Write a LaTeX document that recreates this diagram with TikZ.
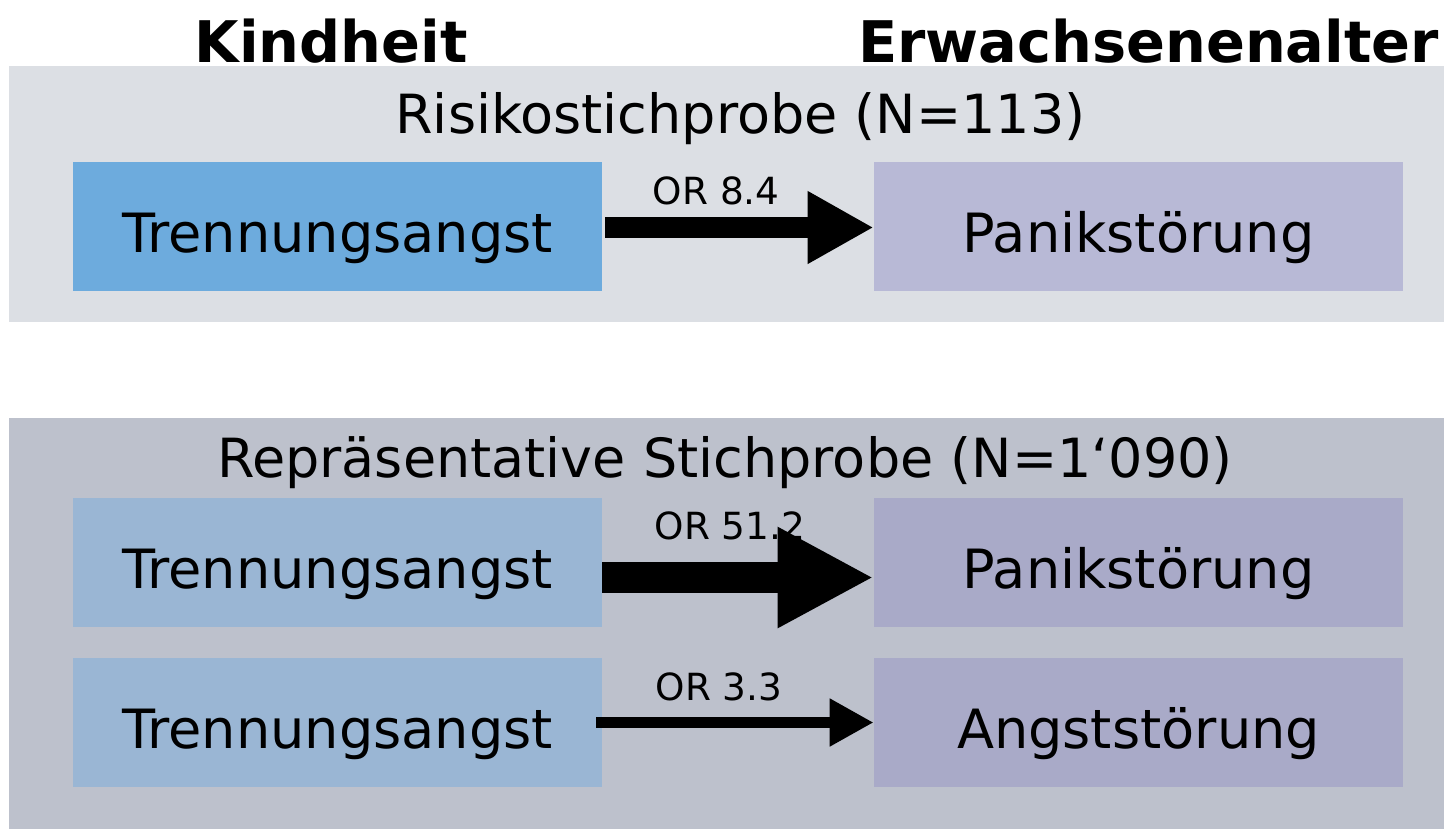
\documentclass[tikz,border=0pt]{standalone}
\usepackage{fontspec}
\setmainfont{DejaVu Sans}
\usetikzlibrary{arrows.meta}

\definecolor{riskbg}{HTML}{DCDFE4}
\definecolor{reprbg}{HTML}{BDC1CC}
\definecolor{sepA}{HTML}{6DABDD}
\definecolor{panA}{HTML}{B8B9D6}
\definecolor{sepB}{HTML}{9AB6D4}
\definecolor{panB}{HTML}{A9AAC8}

\begin{document}
\begin{tikzpicture}[x=0.025cm, y=-0.025cm,
    heading/.style={inner sep=0pt, anchor=base, font=\fontsize{40.8}{44}\selectfont\bfseries},
    sampletitle/.style={inner sep=0pt, anchor=base, font=\fontsize{38.4}{40}\selectfont},
    box/.style={minimum width=13.225cm, minimum height=3.225cm, inner sep=0pt,
        text height=36.6pt, text depth=0pt, font=\fontsize{38.5}{40}\selectfont},
    orlabel/.style={inner sep=0pt, font=\fontsize{26.6}{30}\selectfont}]
    \useasboundingbox (0,0) rectangle (1444,829);

    % Panels
    \fill[riskbg] (9,66) rectangle (1444,322);
    \fill[reprbg] (9,418) rectangle (1444,829);

    % Headings
    \node[heading] (kind) at (331,62) {Kindheit};
    \node[heading] (erw) at (1148.5,62) {Erwachsenenalter};

    % Sample titles
    \node[sampletitle] (risk) at (740.5,133) {Risikostichprobe (N=113)};
    \node[sampletitle] (repr) at (725,477) {Repräsentative Stichprobe (N=1‘090)};

    % Boxes
    \node[box, fill=sepA] (trenn1) at (337.5,226.5) {Trennungsangst};
    \node[box, fill=panA] (panik1) at (1138.5,226.5) {Panikstörung};
    \node[box, fill=sepB] (trenn2) at (337.5,562.5) {Trennungsangst};
    \node[box, fill=panB] (panik2) at (1138.5,562.5) {Panikstörung};
    \node[box, fill=sepB] (trenn3) at (337.5,722.5) {Trennungsangst};
    \node[box, fill=panB] (angst3) at (1138.5,722.5) {Angststörung};

    % Arrows (width ~ odds ratio)
    \draw[line width=14.9pt, -{Triangle[length=1.65cm, width=1.7cm]}, shorten <=0.075cm]
        ([yshift=-0.025cm]trenn1.east) -- ([yshift=-0.025cm]panik1.west)
        node[orlabel, pos=0.42, above=0.3cm] (or1) {OR 8.4};
    \draw[line width=22pt, -{Triangle[length=2.4cm, width=2.35cm]}]
        ([yshift=-0.375cm]trenn2.east) -- ([yshift=-0.375cm]panik2.west)
        node[orlabel, pos=0.47, above=0.55cm] (or2) {OR 51.2};
    \draw[line width=8.5pt, -{Triangle[length=1.1cm, width=1.125cm]}, shorten <=-0.15cm]
        (trenn3.east) -- (angst3.west)
        node[orlabel, pos=0.43, above=0.4cm] (or3) {OR 3.3};
\end{tikzpicture}
\end{document}
